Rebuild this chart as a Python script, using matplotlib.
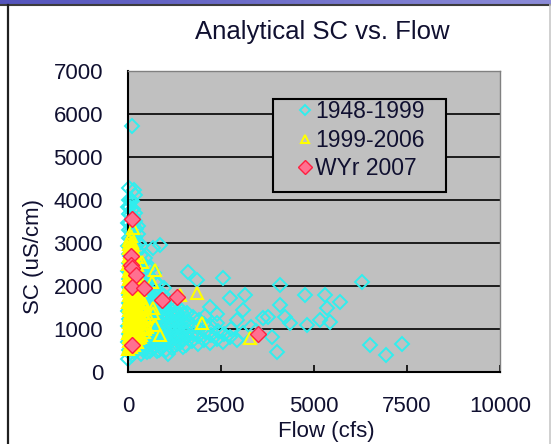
import numpy as np
import matplotlib
matplotlib.use("Agg")
import matplotlib.pyplot as plt
from matplotlib.lines import Line2D
from matplotlib.patches import Rectangle
from matplotlib.colors import LinearSegmentedColormap

plt.rcParams['font.family'] = ['Liberation Sans', 'DejaVu Sans']

# flow (cfs), SC (uS/cm)
hist_pts = [
    (10, 310), (25, 505), (5, 690), (30, 880), (12, 1060), (35, 1235), (8, 1425), (22, 1600),
    (40, 1790), (15, 1985), (28, 2165), (6, 2350), (33, 2540), (18, 2735), (9, 2920), (38, 3110),
    (20, 3295), (11, 3470), (27, 3665), (4, 3840), (30, 4010), (14, 4290),
    (55, 450), (72, 640), (60, 835), (85, 1005), (50, 1195), (78, 1380), (66, 1575), (90, 1760),
    (58, 1955), (80, 2145), (62, 2325), (88, 2520), (52, 2705), (75, 2900), (68, 3085), (84, 3270),
    (57, 3455), (73, 3640), (61, 3830), (86, 4005),
    (120, 400), (105, 590), (140, 780), (115, 960), (130, 1150), (110, 1340), (145, 1530), (125, 1720),
    (102, 1905), (135, 2100), (118, 2290), (148, 2480), (108, 2670), (128, 2860), (142, 3050), (112, 3240),
    (132, 3430), (122, 3610), (138, 3790), (106, 3980), (150, 4240), (100, 5720),
    (185, 480), (170, 670), (205, 860), (190, 1040), (215, 1230), (175, 1420), (200, 1610), (180, 1800),
    (210, 1990), (195, 2180), (172, 2370), (218, 2560), (188, 2750), (202, 2940), (178, 3130), (208, 3320),
    (192, 3520), (183, 3700), (190, 4120),
    (250, 540), (280, 730), (245, 920), (270, 1110), (290, 1300), (255, 1490), (275, 1680), (242, 1870),
    (285, 2060), (262, 2250), (278, 2440), (248, 2630), (268, 2820), (288, 3010), (258, 3200), (272, 3390),
    (340, 430), (365, 620), (325, 810), (355, 1000), (375, 1190), (335, 1380), (360, 1570), (345, 1760),
    (370, 1950), (330, 2140), (352, 2330), (368, 2520), (338, 2710), (360, 2940),
    (400, 520), (410, 710), (395, 900), (415, 1090), (405, 1280), (400, 1470), (410, 1660), (398, 1850),
    (450, 560), (475, 750), (440, 940), (465, 1130), (490, 1320), (455, 1510), (480, 1700), (445, 1890),
    (470, 2080), (460, 2270), (485, 2460), (450, 2650),
    (520, 470), (530, 660), (515, 850), (535, 1040), (525, 1230), (520, 1420), (530, 1610), (518, 1800),
    (580, 500), (600, 690), (565, 880), (590, 1070), (615, 1260), (575, 1450), (605, 1640), (570, 1830),
    (595, 2020), (585, 2210), (610, 2420), (680, 2875),
    (640, 540), (655, 730), (645, 920), (660, 1110), (650, 1300), (640, 1490), (655, 1680),
    (700, 580), (725, 770), (690, 960), (715, 1150), (740, 1340), (705, 1530), (730, 1720), (695, 1910),
    (720, 2100), (710, 2300),
    (770, 480), (780, 670), (765, 860), (785, 1050), (775, 1240), (770, 1430), (780, 1620),
    (830, 520), (855, 710), (810, 900), (845, 1090), (870, 1280), (820, 1470), (850, 1660), (835, 1850),
    (815, 2050), (860, 2950),
    (900, 560), (910, 750), (895, 940), (915, 1130), (905, 1320), (900, 1510),
    (960, 620), (985, 810), (945, 1000), (975, 1190), (995, 1380), (955, 1570), (980, 1760), (965, 1960),
    (1020, 520), (1035, 710), (1030, 900), (1040, 1090), (1025, 1280), (1030, 1470),
    (1080, 430), (1110, 700), (1090, 890), (1125, 1080), (1100, 1270), (1130, 1460), (1095, 1650),
    (1170, 560), (1180, 750), (1165, 940), (1185, 1130), (1175, 1320),
    (1240, 600), (1265, 790), (1230, 980), (1275, 1170), (1250, 1360), (1235, 1550),
    (1320, 640), (1330, 830), (1315, 1020), (1335, 1210), (1325, 1400),
    (1390, 680), (1420, 870), (1400, 1060), (1385, 1250), (1415, 1440), (1620, 2330),
    (1480, 580), (1490, 770), (1475, 960), (1495, 1150), (1485, 1340),
    (1560, 620), (1585, 810), (1570, 1000), (1595, 1190), (1575, 1380),
    (1710, 720), (1740, 910), (1725, 1100), (1735, 1290), (1850, 2140),
    (1870, 650), (1895, 840), (1880, 1030), (1900, 1220),
    (2040, 740), (2065, 930), (2050, 1120), (2075, 1310),
    (2210, 680), (2235, 870), (2200, 1520), (2225, 1060),
    (2390, 760), (2415, 950), (2380, 1360), (2405, 1140),
    (2560, 2180), (2550, 700), (2575, 890), (2740, 1710), (2730, 820), (2760, 1010),
    (2920, 750), (2920, 1210), (3100, 1440), (3145, 1790), (3080, 900), (3300, 1050), (3450, 950),
    (3640, 1250), (3770, 1290), (3860, 820), (4000, 470), (4090, 1560), (4090, 2020), (4220, 1290),
    (4350, 1130), (4760, 1790), (4800, 1090), (5160, 1210), (5300, 1790), (5340, 1480), (5430, 1170),
    (5700, 1635), (6280, 2100), (6500, 620), (6940, 400), (7370, 640),
]

recent_pts = [
    (10, 540), (35, 720), (5, 900), (28, 1080), (15, 1260), (40, 1440), (8, 1620), (25, 1800),
    (12, 1980), (38, 2160), (20, 2340), (6, 2520), (30, 2700), (14, 2880), (22, 3060),
    (45, 630), (20, 810), (50, 990), (18, 1170), (48, 1350), (22, 1530), (52, 1710), (16, 1890),
    (46, 2070), (24, 2250), (50, 2430), (18, 2610), (44, 2790), (26, 2970),
    (75, 580), (95, 760), (60, 940), (88, 1120), (70, 1300), (100, 1480), (65, 1660), (92, 1840),
    (78, 2020), (58, 2200), (85, 2380), (68, 2560), (98, 2740), (72, 2920), (80, 3160),
    (115, 670), (125, 850), (110, 1030), (120, 1210), (112, 1390), (128, 1570), (105, 1750), (122, 1930),
    (116, 2110), (108, 2290), (124, 2470), (112, 2650), (118, 2830), (110, 3020),
    (150, 620), (170, 800), (135, 980), (160, 1160), (145, 1340), (175, 1520), (140, 1700), (165, 1880),
    (155, 2060), (130, 2240), (168, 2420), (148, 2600), (158, 2780), (140, 2950), (140, 3340),
    (190, 750), (200, 930), (185, 1110), (205, 1290), (195, 1470), (188, 1650), (198, 1830), (192, 2010),
    (202, 2190), (186, 2370), (196, 2550),
    (230, 700), (250, 880), (215, 1060), (240, 1240), (260, 1420), (225, 1600), (245, 1780), (235, 1960),
    (255, 2140), (220, 2320), (240, 2500), (230, 2680),
    (270, 780), (280, 960), (265, 1140), (285, 1320), (275, 1500), (268, 1680), (282, 1860), (272, 2040),
    (310, 820), (330, 1000), (300, 1180), (320, 1360), (340, 1540), (305, 1720), (325, 1900), (315, 2150),
    (360, 870), (375, 1050), (355, 1250), (380, 1450), (365, 1650),
    (420, 920), (440, 1150), (410, 1380), (430, 1600), (370, 2565), (400, 1200),
    (470, 1000), (480, 1250), (460, 1480),
    (520, 1050), (540, 1300), (670, 1370),
    (640, 2100), (725, 2370), (680, 1480), (725, 1090), (860, 860), (1400, 1790), (1850, 1830),
    (1980, 1130), (3280, 780),
]

wy2007_pts = [
    (108, 3560), (80, 2700), (80, 2490), (110, 2420), (215, 2255), (108, 1980),
    (430, 1950), (915, 1670), (1310, 1750), (3500, 880), (108, 630),
]

labels = ['1948-1999', '1999-2006', 'WYr 2007']
x_ticks = [0, 2500, 5000, 7500, 10000]
y_ticks = [0, 1000, 2000, 3000, 4000, 5000, 6000, 7000]

txt = '#101030'

fig = plt.figure(figsize=(5.51, 4.44), dpi=100)
fig.patch.set_facecolor('white')
W, H = 551.0, 444.0

ax = fig.add_axes([128 / W, 1 - 372 / H, 372 / W, 301 / H])
ax.set_facecolor('#c0c0c0')
ax.set_xlim(0, 10000)
ax.set_ylim(0, 7000)
ax.set_xticks(x_ticks)
ax.set_yticks(y_ticks)
ax.set_axisbelow(True)
ax.yaxis.grid(True, color='black', lw=1.2)

hx, hy = zip(*hist_pts)
rx, ry = zip(*recent_pts)
px, py = zip(*wy2007_pts)
ax.plot(hx, hy, ls='none', marker='D', ms=7, mfc='none', mec='#30eeee', mew=1.4,
        clip_on=False, zorder=2, label=labels[0])
ax.plot(rx, ry, ls='none', marker='^', ms=8, mfc='none', mec='#ffff00', mew=1.5,
        clip_on=False, zorder=3, label=labels[1])
ax.plot(px, py, ls='none', marker='D', ms=8.5, mfc='#ff7090', mec='#ff2040', mew=1,
        clip_on=False, zorder=4, label=labels[2])

for s in ['left', 'bottom']:
    ax.spines[s].set_color('black')
    ax.spines[s].set_linewidth(1.5)
for s in ['top', 'right']:
    ax.spines[s].set_color('#808080')
    ax.spines[s].set_linewidth(1.0)

ax.tick_params(axis='x', direction='in', length=5, width=1.2, pad=17, labelsize=16, labelcolor=txt)
ax.tick_params(axis='y', direction='in', length=0, pad=18, labelsize=16, labelcolor=txt)

# legend box
ax.add_patch(Rectangle(((273 - 128) / 372, (372 - 192) / 301), (446 - 273) / 372, (192 - 99) / 301,
                       transform=ax.transAxes, facecolor='#c0c0c0', edgecolor='black',
                       lw=1.5, zorder=5))
leg = ax.legend(loc='upper left', bbox_to_anchor=((298 - 128) / 372, (372 - 100) / 301),
                frameon=False, fontsize=16.5, handlelength=0.65, handletextpad=0.1,
                borderpad=0, borderaxespad=0, labelspacing=0.25, markerscale=0.8)
leg.set_zorder(6)
for t in leg.get_texts():
    t.set_color(txt)

fig.text(322 / W, 1 - 39 / H, 'Analytical SC vs. Flow', ha='center', va='baseline',
         fontsize=18.5, color=txt)
fig.text(326 / W, 1 - 431 / H, 'Flow (cfs)', ha='center', va='center', fontsize=16, color=txt)
fig.text(34 / W, 1 - 256 / H, 'SC (uS/cm)', ha='center', va='center', rotation=90,
         fontsize=16, color=txt)

# slide frame
bar = fig.add_axes([0, 1 - 4 / H, 1, 4 / H])
bar.imshow(np.linspace(0, 1, 256).reshape(1, -1), aspect='auto',
           cmap=LinearSegmentedColormap.from_list('b', ['#5454bc', '#8c8cd8']))
bar.set_axis_off()
fig.add_artist(Line2D([0, 1], [1 - 5 / H, 1 - 5 / H], transform=fig.transFigure,
                      color='#3c3c3c', lw=1.5))
fig.add_artist(Line2D([7.5 / W, 7.5 / W], [0, 1 - 5 / H], transform=fig.transFigure,
                      color='#202020', lw=1.6))
fig.add_artist(Line2D([550 / W, 550 / W], [0, 1 - 5 / H], transform=fig.transFigure,
                      color='#c8c8c8', lw=1.2))

fig.savefig('out.png', dpi=100)
